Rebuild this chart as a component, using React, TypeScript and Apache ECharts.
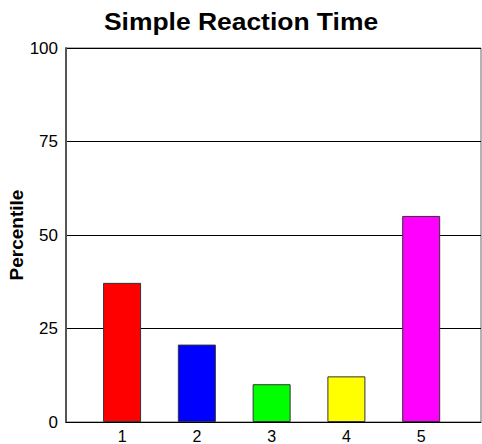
import React, { useEffect, useRef } from "react";
import * as echarts from "echarts";

const categories = [1, 2, 3, 4, 5];
const values = [37.2, 20.7, 10.1, 12.2, 55.1];
const colors = ["#ff0000", "#0000ff", "#00ff00", "#ffff00", "#ff00ff"];
const yTicks = [0, 25, 50, 75, 100];
const titleText = "Simple Reaction Time";
const yName = "Percentile";

const FONT = "'Liberation Sans', Arial, sans-serif";

export default function App() {
  const ref = useRef<HTMLDivElement>(null);
  useEffect(() => {
    if (!ref.current) return;
    const chart = echarts.init(ref.current, null, { renderer: "svg" });
    chart.setOption({
      animation: false,
      backgroundColor: "#ffffff",
      graphic: [
        {
          type: "text",
          x: 241,
          y: 22,
          scaleX: 1.15,
          style: {
            text: titleText,
            fontFamily: FONT,
            fontSize: 23,
            fontWeight: "bold",
            fill: "#000",
            align: "center",
            verticalAlign: "middle",
          },
        },
      ],
      grid: {
        left: 66,
        top: 48,
        right: 1,
        bottom: 22,
        show: true,
        borderColor: "#666",
        borderWidth: 1,
        containLabel: false,
        outerBoundsMode: "none",
      },
      xAxis: {
        type: "value",
        min: 0.25,
        max: 5.8,
        interval: 0.25,
        axisLine: { show: true, onZero: false, lineStyle: { color: "#000", width: 1 } },
        axisTick: { show: false },
        splitLine: { show: false },
        axisLabel: {
          fontFamily: FONT,
          fontSize: 16,
          color: "#000",
          margin: 6,
          showMinLabel: false,
          showMaxLabel: false,
          formatter: (v: number) => (categories.includes(v) ? String(v) : ""),
        },
      },
      yAxis: {
        type: "value",
        min: yTicks[0],
        max: yTicks[yTicks.length - 1],
        interval: 25,
        name: yName,
        nameLocation: "middle",
        nameGap: 40,
        nameMoveOverlap: false,
        nameTextStyle: { fontFamily: FONT, fontSize: 19, fontWeight: "bold", color: "#000" },
        axisLine: { show: true, lineStyle: { color: "#555", width: 2 } },
        axisTick: { show: false },
        splitLine: { show: true, lineStyle: { color: "#000", width: 1 } },
        axisLabel: { fontFamily: FONT, fontSize: 17, color: "#000", margin: 8 },
      },
      series: [
        {
          type: "bar",
          barWidth: 38,
          data: categories.map((c, i) => ({
            value: [c, values[i]],
            itemStyle: { color: colors[i], borderColor: "#333", borderWidth: 1 },
          })),
        },
      ],
    });
    return () => chart.dispose();
  }, []);
  return (
    <div
      ref={ref}
      style={{ position: "absolute", left: 0, top: 0, width: 482, height: 444 }}
    />
  );
}
